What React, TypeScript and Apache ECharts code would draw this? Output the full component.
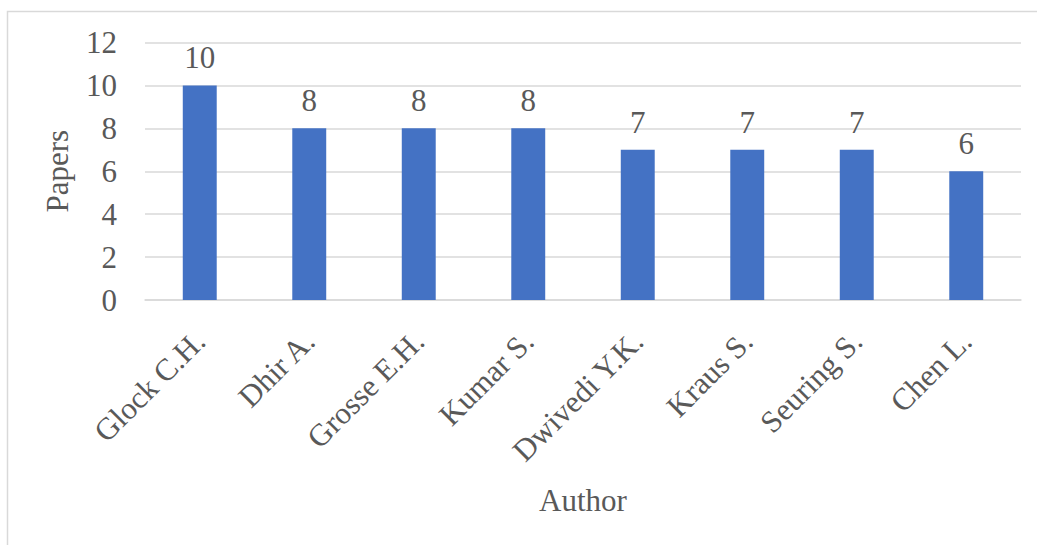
import React, { useEffect, useRef } from "react";
import * as echarts from "echarts";

const authors = [
  "Glock C.H.",
  "Dhir A.",
  "Grosse E.H.",
  "Kumar S.",
  "Dwivedi Y.K.",
  "Kraus S.",
  "Seuring S.",
  "Chen L.",
];
const papers = [10, 8, 8, 8, 7, 7, 7, 6];
const yTicks = { min: 0, max: 12, interval: 2 };

const FONT = "Liberation Serif";
const TEXT = "#595959";
const GRID = "#D9D9D9";

export default function App() {
  const ref = useRef<HTMLDivElement>(null);

  useEffect(() => {
    if (!ref.current) return;
    const chart = echarts.init(ref.current, null, { renderer: "svg" });
    chart.setOption({
      animation: false,
      backgroundColor: "#ffffff",
      textStyle: { fontFamily: FONT },
      graphic: [
        {
          type: "rect",
          shape: { x: 7.5, y: 11.5, width: 1040, height: 540 },
          style: { fill: "none", stroke: GRID, lineWidth: 1.5 },
          silent: true,
        },
      ],
      grid: { left: 145, right: 16, top: 42.5, bottom: 245, containLabel: false },
      xAxis: {
        type: "category",
        data: authors,
        name: "Author",
        nameLocation: "middle",
        nameGap: 185,
        nameTextStyle: { fontSize: 31, color: TEXT, fontFamily: FONT },
        axisLine: { lineStyle: { color: GRID, width: 1.5 } },
        axisTick: { show: false },
        axisLabel: {
          rotate: 45,
          margin: 36,
          fontSize: 31,
          color: TEXT,
          fontFamily: FONT,
          interval: 0,
        },
      },
      yAxis: {
        type: "value",
        min: yTicks.min,
        max: yTicks.max,
        interval: yTicks.interval,
        name: "Papers",
        nameLocation: "middle",
        nameGap: 72,
        nameTextStyle: { fontSize: 31, color: TEXT, fontFamily: FONT },
        axisLine: { show: false },
        axisTick: { show: false },
        axisLabel: { margin: 28, fontSize: 31, color: TEXT, fontFamily: FONT },
        splitLine: { lineStyle: { color: GRID, width: 1.5 } },
      },
      series: [
        {
          type: "bar",
          data: papers,
          barWidth: "31%",
          itemStyle: { color: "#4472C4" },
          label: {
            show: true,
            position: "top",
            distance: 12,
            fontSize: 31,
            color: TEXT,
            fontFamily: FONT,
          },
        },
      ],
    });
    return () => chart.dispose();
  }, []);

  return (
    <div
      ref={ref}
      style={{ position: "fixed", left: 0, top: 0, width: 1037, height: 545 }}
    />
  );
}
